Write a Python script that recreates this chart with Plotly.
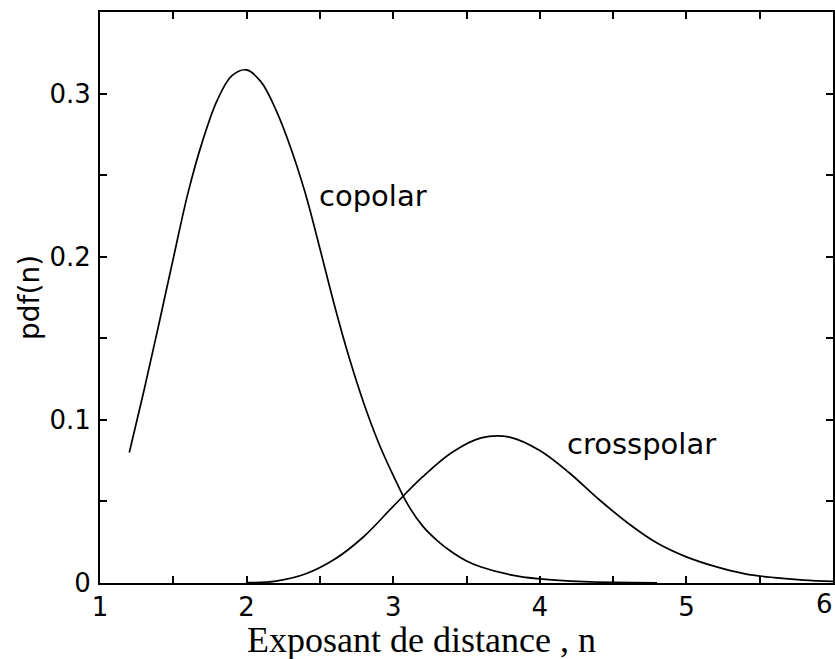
import plotly.graph_objects as go

# Data
copolar_x = [1.2, 1.3, 1.4, 1.5, 1.6, 1.7, 1.8, 1.9, 2.0, 2.1, 2.2, 2.3, 2.4, 2.5, 2.6, 2.7,
             2.8, 2.9, 3.0, 3.1, 3.2, 3.3, 3.4, 3.5, 3.6, 3.8, 4.0, 4.3, 4.8]
copolar_y = [0.080, 0.118, 0.158, 0.199, 0.239, 0.271, 0.296, 0.311, 0.3145, 0.307, 0.290,
             0.267, 0.239, 0.205, 0.170, 0.138, 0.110, 0.086, 0.066, 0.048, 0.035, 0.026,
             0.019, 0.0135, 0.0098, 0.005, 0.0025, 0.0008, 0.0001]

crosspolar_x = [2.0, 2.2, 2.4, 2.6, 2.8, 3.0, 3.2, 3.4, 3.6, 3.8, 4.0, 4.2, 4.4, 4.6, 4.8,
                5.0, 5.2, 5.4, 5.6, 5.8, 6.0]
crosspolar_y = [0.0002, 0.0012, 0.0055, 0.0145, 0.0285, 0.047, 0.065, 0.080, 0.0890, 0.0893,
                0.0812, 0.0676, 0.0515, 0.0368, 0.0245, 0.0160, 0.0100, 0.0056, 0.0033,
                0.0018, 0.0010]

x_tickvals = [1, 1.5, 2, 2.5, 3, 3.5, 4, 4.5, 5, 5.5, 6]
x_ticktext = ["1", "", "2", "", "3", "", "4", "", "5", "", "6"]
y_tickvals = [0, 0.05, 0.1, 0.15, 0.2, 0.25, 0.3]
y_ticktext = ["0", "", "0.1", "", "0.2", "", "0.3"]

fig = go.Figure()
fig.add_trace(go.Scatter(x=copolar_x, y=copolar_y, mode="lines", name="copolar",
                         line=dict(color="black", width=1.7, shape="spline", smoothing=1.0)))
fig.add_trace(go.Scatter(x=crosspolar_x, y=crosspolar_y, mode="lines", name="crosspolar",
                         line=dict(color="black", width=1.7, shape="spline", smoothing=1.0)))

tick_font = dict(family="DejaVu Sans, sans-serif", size=26, color="black")

# the last x tick label sits flush with the right edge in the reference
shown_xtext = x_ticktext[:-1] + [""]

fig.update_layout(
    width=835, height=659, autosize=False,
    margin=dict(l=100, r=2, t=12, b=76),
    paper_bgcolor="white", plot_bgcolor="white",
    showlegend=False,
    xaxis=dict(range=[1, 6], tickvals=x_tickvals, ticktext=shown_xtext,
               ticks="inside", ticklen=7, tickwidth=1.5, tickcolor="black",
               showline=True, linecolor="black", linewidth=2, mirror="allticks",
               showgrid=False, zeroline=False, tickfont=tick_font, automargin=False,
               ticklabelstandoff=0),
    yaxis=dict(range=[0, 0.35], tickvals=y_tickvals, ticktext=y_ticktext,
               ticks="inside", ticklen=7, tickwidth=1.5, tickcolor="black",
               showline=True, linecolor="black", linewidth=2, mirror="allticks",
               showgrid=False, zeroline=False, tickfont=tick_font, ticklabelstandoff=2,
               automargin=False),
    annotations=[
        dict(text=x_ticktext[-1], x=x_tickvals[-1], y=0, xref="x", yref="paper",
             xanchor="right", yanchor="top", xshift=2, yshift=-4, showarrow=False,
             font=tick_font),
        dict(text="copolar", x=2.48, y=0.237, xref="x", yref="y", xanchor="left", yanchor="middle",
             showarrow=False, font=dict(family="DejaVu Sans, sans-serif", size=29, color="black")),
        dict(text="crosspolar", x=4.17, y=0.085, xref="x", yref="y", xanchor="left", yanchor="middle",
             showarrow=False, font=dict(family="DejaVu Sans, sans-serif", size=29, color="black")),
        dict(text="Exposant de distance , n", x=0.439, y=-0.10, xref="paper", yref="paper",
             xanchor="center", yanchor="middle", showarrow=False,
             font=dict(family="Liberation Serif, Times New Roman, serif", size=36, color="black")),
        dict(text="pdf(n)", x=-0.0955, y=0.501, xref="paper", yref="paper", textangle=-90,
             xanchor="center", yanchor="middle", showarrow=False,
             font=dict(family="DejaVu Sans, sans-serif", size=28, color="black")),
    ],
)

fig.write_html("out.html", config={"displayModeBar": False},
               post_script="document.body.style.margin='0';")
